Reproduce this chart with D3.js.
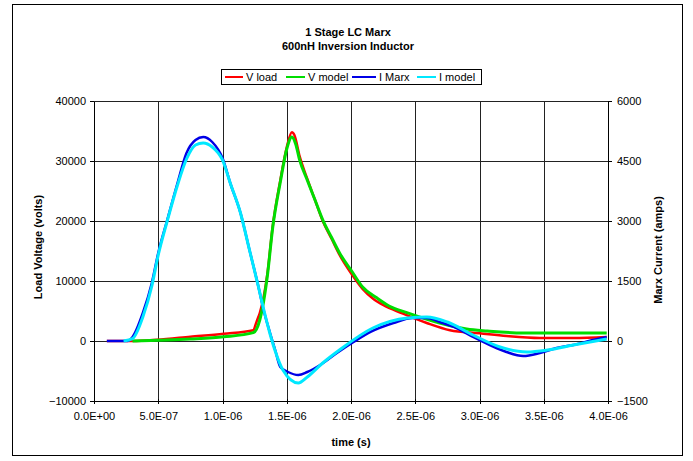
<!DOCTYPE html>
<html><head><meta charset="utf-8">
<script src="https://cdn.jsdelivr.net/npm/d3@7"></script>
<style>
body{margin:0;background:#fff;}
text{font-family:"Liberation Sans",Arial,sans-serif;fill:#000;}
</style></head>
<body><svg id="c" width="693" height="461"></svg>
<script>
// time in microseconds
const tVload = [0.10,0.30,0.49,0.75,1.01,1.24,1.26,1.27,1.29,1.35,1.39,1.45,1.50,1.54,1.56,1.60,1.66,1.72,1.78,1.85,1.91,2.01,2.09,2.17,2.25,2.40,2.59,2.77,3.00,3.21,3.47,3.73,3.99];
const vLoad  = [0,0,200,700,1200,1800,2900,3500,4650,11300,19000,26800,32300,34800,34300,30800,27000,23500,20000,17000,14400,11000,8700,7100,6000,4600,3000,1800,1300,830,500,500,670];
const tVmodel = [0.30,0.75,1.01,1.24,1.29,1.35,1.39,1.45,1.50,1.54,1.57,1.60,1.66,1.72,1.78,1.85,1.91,2.01,2.09,2.20,2.30,2.44,2.69,2.90,3.06,3.34,3.73,3.99];
const vModel  = [0,330,700,1400,3500,11000,18800,26500,32000,34000,32800,30200,26800,23500,20200,17200,14700,11500,9000,7200,5800,4700,3000,2000,1670,1330,1330,1330];
const tImarx = [0.10,0.26,0.30,0.38,0.45,0.50,0.57,0.65,0.72,0.79,0.85,0.92,1.00,1.06,1.14,1.21,1.28,1.32,1.37,1.41,1.45,1.51,1.59,1.66,1.76,1.89,2.02,2.16,2.33,2.48,2.59,2.69,2.82,2.95,3.08,3.21,3.34,3.47,3.60,3.73,3.88,3.99];
const iMarx  = [0,0,100,700,1450,2200,3025,3950,4700,5025,5100,4975,4575,3950,3200,2275,1350,775,200,-225,-650,-775,-850,-775,-600,-300,-25,240,450,575,575,475,325,100,-100,-275,-375,-300,-175,-100,25,100];
const tImodel = [0.23,0.30,0.38,0.45,0.50,0.57,0.65,0.72,0.79,0.85,0.92,1.00,1.06,1.14,1.21,1.28,1.32,1.37,1.41,1.47,1.59,1.66,1.78,1.91,2.17,2.44,2.59,2.75,2.95,3.16,3.37,3.53,3.73,3.99];
const iModel  = [0,60,600,1375,2150,3000,3900,4550,4900,4950,4850,4525,3950,3200,2275,1350,800,175,-250,-725,-1050,-900,-550,-225,325,575,600,475,150,-150,-275,-225,-100,50];
const xTicks = [0,5e-7,1e-6,1.5e-6,2e-6,2.5e-6,3e-6,3.5e-6,4e-6];
const xTickLabels = ["0.0E+00","5.0E-07","1.0E-06","1.5E-06","2.0E-06","2.5E-06","3.0E-06","3.5E-06","4.0E-06"];
const yLeftTicks = [-10000,0,10000,20000,30000,40000];
const yRightTicks = [-1500,0,1500,3000,4500,6000];
const seriesNames = ["V load","V model","I Marx","I model"];
const seriesColors = ["#ff0000","#00dd00","#0000e6","#00e8ff"];

const svg = d3.select("#c");
const L=94,R=608,T=101,B=401;
const x = d3.scaleLinear().domain([0,4e-6]).range([L,R]);
const yL = d3.scaleLinear().domain([-10000,40000]).range([B,T]);
const yR = d3.scaleLinear().domain([-1500,6000]).range([B,T]);

// outer border
svg.append("rect").attr("x",12.5).attr("y",4.5).attr("width",670).attr("height",451)
  .attr("fill","none").attr("stroke","#000").attr("stroke-width",1);

// grid
const g = svg.append("g").attr("shape-rendering","crispEdges");
xTicks.forEach(v=>g.append("line").attr("x1",Math.round(x(v))+0.5).attr("x2",Math.round(x(v))+0.5).attr("y1",T).attr("y2",B).attr("stroke","#222"));
yLeftTicks.forEach(v=>g.append("line").attr("x1",L).attr("x2",R).attr("y1",Math.round(yL(v))+0.5).attr("y2",Math.round(yL(v))+0.5).attr("stroke","#222"));

// axes
const ax = svg.append("g").attr("transform",`translate(0,${B})`)
  .call(d3.axisBottom(x).tickValues(xTicks).tickFormat((d,i)=>xTickLabels[i]).tickSize(4).tickSizeOuter(0));
const ayl = svg.append("g").attr("transform",`translate(${L},0)`)
  .call(d3.axisLeft(yL).tickValues(yLeftTicks).tickFormat(d3.format("d")).tickSize(4).tickSizeOuter(0));
const ayr = svg.append("g").attr("transform",`translate(${R},0)`)
  .call(d3.axisRight(yR).tickValues(yRightTicks).tickFormat(d3.format("d")).tickSize(4).tickSizeOuter(0));
[ax,ayl,ayr].forEach(a=>{
  a.selectAll("path,line").attr("stroke","#000").attr("shape-rendering","crispEdges");
  a.selectAll("text").attr("font-size",11).attr("font-family","Liberation Sans, Arial, sans-serif");
});
ax.selectAll("text").attr("dy","1.1em");
ax.selectAll("line").attr("y1",-2).attr("y2",3);
ayl.selectAll("text").attr("x",-8);
ayr.selectAll("text").attr("x",9);

// series
const mk = (ts,vs)=>ts.map((t,i)=>[t*1e-6,vs[i]]);
const data = [
  {pts:mk(tVload,vLoad),y:yL,w:2.5},
  {pts:mk(tVmodel,vModel),y:yL,w:3},
  {pts:mk(tImarx,iMarx),y:yR,w:2.5},
  {pts:mk(tImodel,iModel),y:yR,w:3}
];
const clipG = svg.append("g");
data.forEach((d,i)=>{
  const line = d3.line().x(p=>x(p[0])).y(p=>d.y(p[1])).curve(d3.curveMonotoneX);
  clipG.append("path").attr("d",line(d.pts)).attr("fill","none")
    .attr("stroke",seriesColors[i]).attr("stroke-width",d.w).attr("stroke-linejoin","round");
});

// titles
svg.append("text").attr("x",348).attr("y",36).attr("text-anchor","middle").attr("font-size",11).attr("font-weight","bold").text("1 Stage LC Marx");
svg.append("text").attr("x",348).attr("y",50).attr("text-anchor","middle").attr("font-size",11).attr("font-weight","bold").text("600nH Inversion Inductor");
svg.append("text").attr("x",351).attr("y",446).attr("text-anchor","middle").attr("font-size",11).attr("font-weight","bold").text("time (s)");
svg.append("text").attr("transform","translate(42,247) rotate(-90)").attr("text-anchor","middle").attr("font-size",11).attr("font-weight","bold").text("Load Voltage (volts)");
svg.append("text").attr("transform","translate(662,250) rotate(-90)").attr("text-anchor","middle").attr("font-size",11).attr("font-weight","bold").text("Marx Current (amps)");

// legend
svg.append("rect").attr("x",221.5).attr("y",69.5).attr("width",260).attr("height",15).attr("fill","#fff").attr("stroke","#000");
const legX = [[225,243,246],[286,305,308],[352,376,379],[417,436,439]];
seriesNames.forEach((n,i)=>{
  svg.append("line").attr("x1",legX[i][0]).attr("x2",legX[i][1]).attr("y1",77).attr("y2",77).attr("stroke",seriesColors[i]).attr("stroke-width",2);
  svg.append("text").attr("x",legX[i][2]).attr("y",81).attr("font-size",11).text(n);
});
</script></body></html>
